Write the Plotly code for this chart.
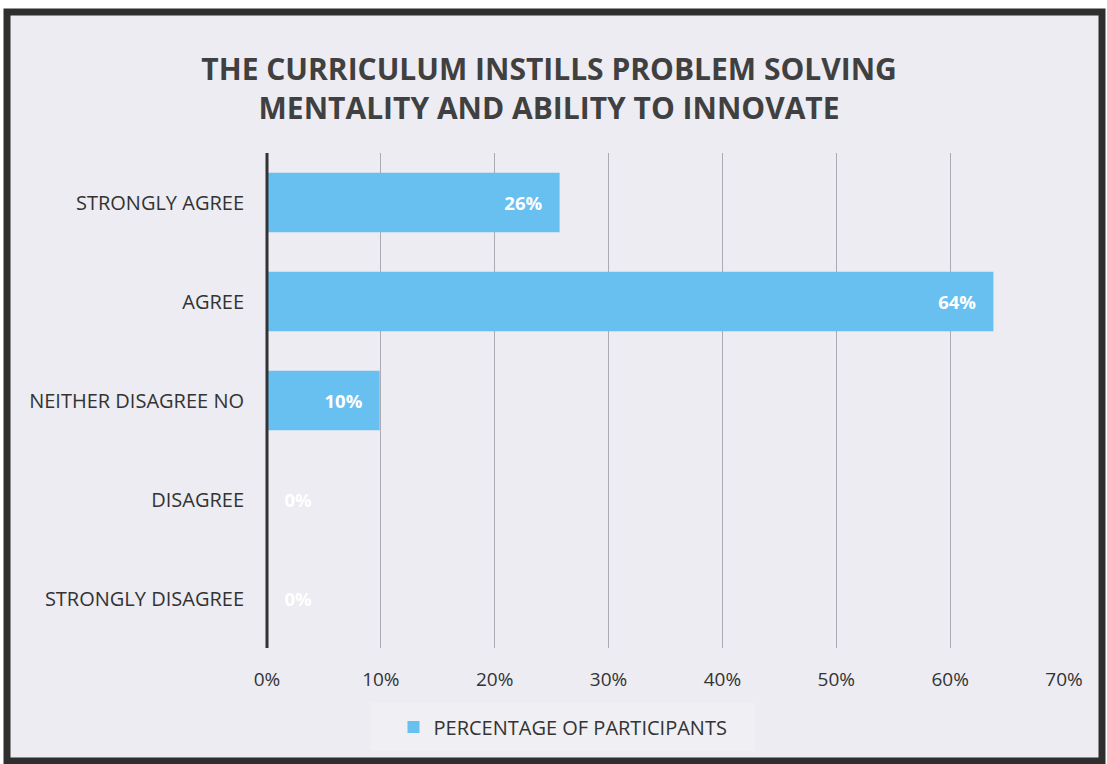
import plotly.graph_objects as go

categories = ["STRONGLY AGREE", "AGREE", "NEITHER DISAGREE NO", "DISAGREE", "STRONGLY DISAGREE"]
values = [25.7, 63.8, 9.9, 0, 0]
labels = ["26%", "64%", "10%", "0%", "0%"]
series_name = "PERCENTAGE OF PARTICIPANTS"
x_ticks = [0, 10, 20, 30, 40, 50, 60, 70]
x_tick_labels = ["0%", "10%", "20%", "30%", "40%", "50%", "60%", "70%"]

W, H = 1107, 764
ml, mr, mt, mb = 267, 43, 153, 116
pw, ph = W - ml - mr, H - mt - mb

def px_x(p):
    return (p - ml) / pw

def px_y(p):
    return (H - mb - p) / ph

NB = "\u00a0"
templates = []
positions = []
for v in values:
    if v > 0:
        templates.append("<b>%{text}</b>" + NB * 3)
        positions.append("inside")
    else:
        templates.append(NB * 3 + "<b>%{text}</b>")
        positions.append("outside")

fig = go.Figure()
fig.add_trace(go.Bar(
    y=categories, x=values, orientation="h", name=series_name,
    marker=dict(color="#68c0f0", line=dict(width=0)),
    width=0.6,
    text=labels,
    texttemplate=templates,
    textposition=positions,
    insidetextanchor="end",
    textfont=dict(color="white", size=18.5, family="Open Sans"),
    constraintext="none",
    cliponaxis=False,
    showlegend=True,
    hoverinfo="skip",
))

fig.update_layout(
    width=W, height=H,
    margin=dict(l=ml, r=mr, t=mt, b=mb),
    paper_bgcolor="white",
    plot_bgcolor="rgba(0,0,0,0)",
    font=dict(family="Open Sans", color="#333333"),
    title=dict(
        text="<b>THE CURRICULUM INSTILLS PROBLEM SOLVING<br>MENTALITY AND ABILITY TO INNOVATE</b>",
        x=0.496, xref="container", xanchor="center",
        y=1 - 80 / H, yref="container", yanchor="middle",
        font=dict(size=30, color="#404040", family="Open Sans"),
    ),
    xaxis=dict(
        range=[0, 70], tickvals=x_ticks, ticktext=x_tick_labels,
        showgrid=True, gridcolor="#ababb3", gridwidth=1,
        zeroline=False, showline=False,
        tickfont=dict(size=19, color="#333333"),
        ticks="", ticklabelstandoff=18,
    ),
    yaxis=dict(
        categoryorder="array", categoryarray=categories, autorange="reversed",
        showgrid=False, zeroline=False,
        showline=False,
        tickfont=dict(size=20, color="#333333"),
        ticks="", ticklabelstandoff=22,
    ),
    bargap=0.4,
    legend=dict(
        orientation="h", x=px_x(563), xanchor="center",
        y=px_y(727), yanchor="middle",
        bgcolor="rgba(0,0,0,0)",
        font=dict(size=20, color="#333333"),
        itemwidth=30,
    ),
    shapes=[
        dict(type="rect", xref="paper", yref="paper",
             x0=px_x(7), x1=px_x(1102), y0=px_y(761), y1=px_y(12),
             fillcolor="#ececf2", line=dict(color="#2e2e2e", width=7), layer="below"),
        dict(type="rect", xref="paper", yref="paper",
             x0=px_x(370), x1=px_x(755), y0=px_y(751), y1=px_y(703),
             fillcolor="#efeff4", line=dict(width=0), layer="below"),
        dict(type="line", xref="paper", yref="paper", x0=0, x1=0, y0=0, y1=1,
             line=dict(color="#333333", width=3)),
    ],
)

fig.write_html("out.html", config={"displayModeBar": False},
               post_script="document.body.style.margin='0';")
